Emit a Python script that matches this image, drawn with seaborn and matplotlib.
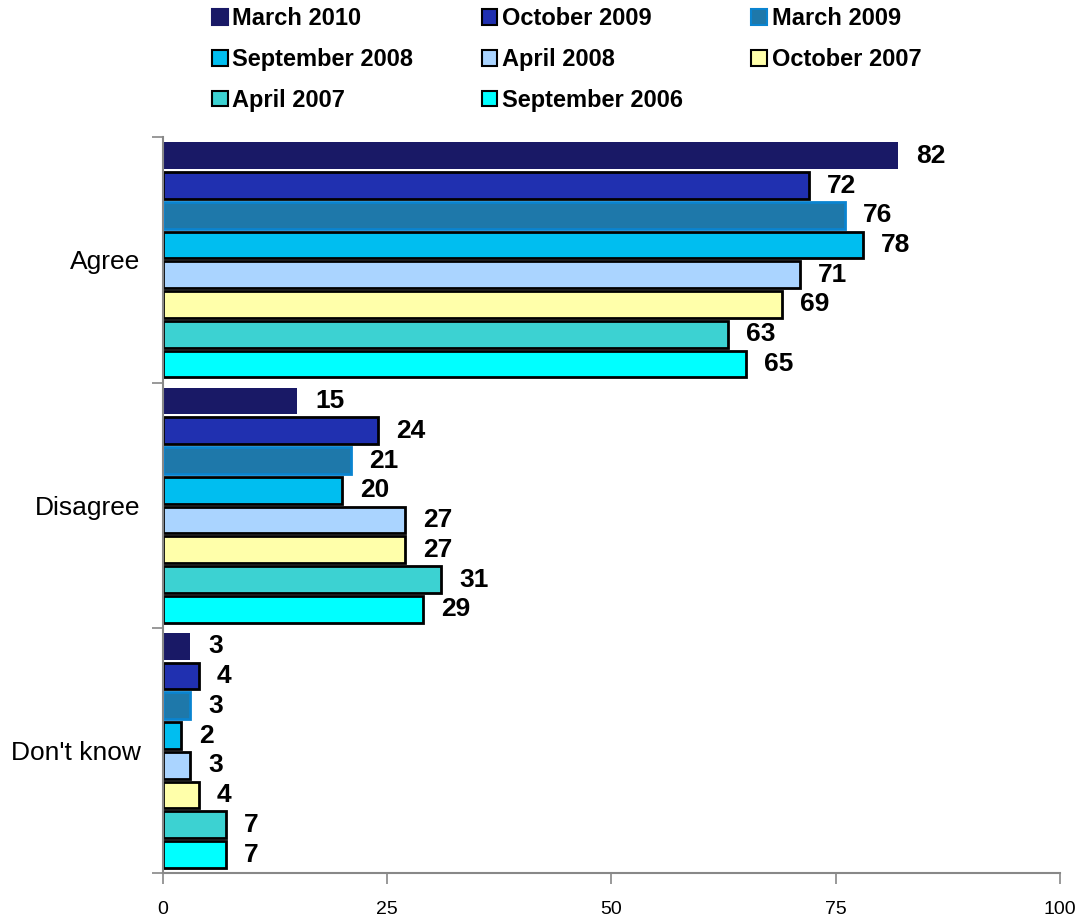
import numpy as np
import pandas as pd
import matplotlib
matplotlib.use("Agg")
import matplotlib.pyplot as plt
from matplotlib.patches import Patch
import seaborn as sns

# ---- data ----
responses = ["Agree", "Disagree", "Don't know"]
waves = ["March 2010", "October 2009", "March 2009", "September 2008",
         "April 2008", "October 2007", "April 2007", "September 2006"]
agree = [82, 72, 76, 78, 71, 69, 63, 65]
disagree = [15, 24, 21, 20, 27, 27, 31, 29]
dont_know = [3, 4, 3, 2, 3, 4, 7, 7]

fills = ["#191966", "#2030B0", "#1E78AA", "#00BEF0",
         "#AAD4FF", "#FFFFAA", "#3CD2D2", "#00FFFF"]
edges = ["none", "black", "#0A84D0", "black",
         "black", "black", "black", "black"]

rows = []
for resp, vals in zip(responses, [agree, disagree, dont_know]):
    for w, v in zip(waves, vals):
        rows.append({"response": resp, "wave": w, "value": v})
df = pd.DataFrame(rows)

sns.set_style("white")
plt.rcParams['font.family'] = ['Liberation Sans', 'DejaVu Sans']
plt.rcParams['text.color'] = 'black'
plt.rcParams['xtick.color'] = 'black'
plt.rcParams['ytick.color'] = 'black'

fig = plt.figure(figsize=(10.86, 9.21), dpi=100)
ax = fig.add_axes([0.150, 0.052, 0.826, 0.799])

sns.barplot(data=df, x="value", y="response", hue="wave", order=responses,
            hue_order=waves, palette=fills, orient="h", width=0.97,
            saturation=1, dodge=True, legend=False, ax=ax)

for cont, ec in zip(ax.containers, edges):
    for bar in cont:
        if ec == "none":
            bar.set_linewidth(0)
        else:
            bar.set_edgecolor(ec)
            bar.set_linewidth(2)
        # shrink a bit so gaps show between bars
        h = bar.get_height()
        bar.set_y(bar.get_y() + h * 0.05)
        bar.set_height(h * 0.9)
    ax.bar_label(cont, labels=[f"{int(v)}" for v in cont.datavalues],
                 padding=13, fontsize=19, fontweight="bold", color="black")

ax.set_xlim(0, 100)
ax.set_ylim(2.5, -0.5)
ax.set_xticks([0, 25, 50, 75, 100])
ax.set_xticklabels(["0", "25", "50", "75", "100"], fontsize=14)
ax.set_yticks([-0.5, 0.5, 1.5, 2.5])
ax.set_yticklabels([])
ax.set_yticks([0, 1, 2], minor=True)
ax.set_yticklabels(responses, minor=True, fontsize=19)
ax.tick_params(axis="y", which="minor", length=0, pad=16)
ax.tick_params(axis="y", which="major", length=8, width=1.2, color="#888888", left=True)
ax.tick_params(axis="x", length=8, width=1.2, color="#888888", labelcolor="black",
               pad=12, bottom=True)
ax.set_xlabel("")
ax.set_ylabel("")
for s in ["top", "right"]:
    ax.spines[s].set_visible(False)
for s in ["left", "bottom"]:
    ax.spines[s].set_color("#888888")
    ax.spines[s].set_linewidth(1.5)

# legend filled row by row like the original
order = [0, 3, 6, 1, 4, 7, 2, 5]
handles = [Patch(facecolor=fills[i],
                 edgecolor=("black" if edges[i] == "black" else fills[i] if edges[i] == "none" else edges[i]),
                 linewidth=1.5) for i in order]
labels = [waves[i] for i in order]
fig.legend(handles, labels, ncol=3, loc="upper left", bbox_to_anchor=(0.176, 1.015),
           frameon=False, prop={"weight": "bold", "size": 17},
           handlelength=0.65, handleheight=0.65, handletextpad=0.2,
           columnspacing=2.9, labelspacing=0.75)

fig.savefig("out.png", dpi=100)
